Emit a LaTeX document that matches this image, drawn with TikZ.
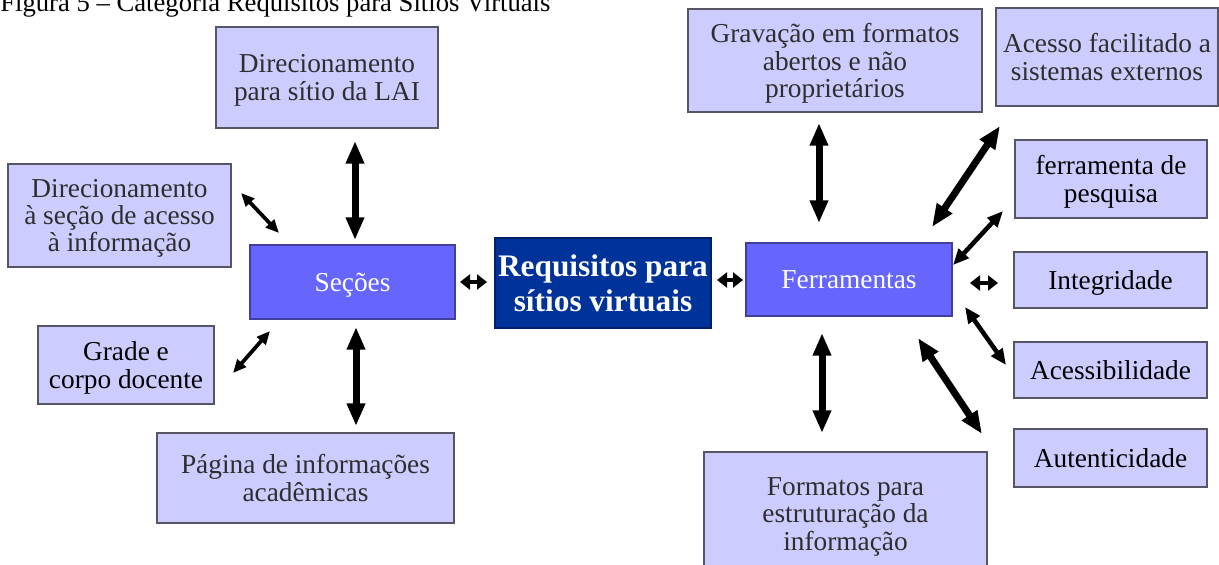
\documentclass[tikz,border=0pt]{standalone}
\usepackage{fontspec}
\setmainfont{Liberation Serif}
\usetikzlibrary{arrows.meta}
\definecolor{boxfill}{HTML}{CCCCFF}
\definecolor{boxline}{HTML}{555566}
\definecolor{midfill}{HTML}{6666FF}
\definecolor{midline}{HTML}{40409A}
\definecolor{darkfill}{HTML}{003399}
\definecolor{darkline}{HTML}{001F66}
\definecolor{graytext}{HTML}{2E2E2E}
\begin{document}
\begin{tikzpicture}[x=0.75pt,y=-0.75pt,
  lbox/.style={draw=boxline, line width=1pt, fill=boxfill, inner sep=0pt, align=center,
    font=\fontsize{20.5}{20.5}\selectfont, text=graytext, text depth=0pt},
  lboxk/.style={lbox, text=black},
  mbox/.style={draw=midline, line width=1pt, fill=midfill, inner sep=0pt, align=center,
    font=\fontsize{20.5}{20.5}\selectfont, text=white, text depth=0pt},
  cbox/.style={draw=darkline, line width=1pt, fill=darkfill, inner sep=0pt, align=center,
    font=\fontsize{23.5}{26}\selectfont\bfseries, text=white},
  bigarr/.style={line width=5.25pt, >={Triangle[width=13pt,length=17pt]}, <->},
  medarr/.style={line width=3.4pt, >={Triangle[width=10pt,length=12pt]}, <->},
  smallarr/.style={line width=2.8pt, >={Triangle[width=8.5pt,length=10pt]}, <->},
  tinyarr/.style={line width=3.4pt, >={Triangle[width=11.25pt,length=7.5pt]}, <->}
]
\useasboundingbox (0,0) rectangle (1219,564);
\clip (0,0) rectangle (1219,564);

\node[anchor=base west, inner sep=0pt, font=\fontsize{20}{20}\selectfont] (cap) at (0,12)
  {Figura 5 – Categoria Requisitos para Sítios Virtuais};

% nodes
\node[lbox, minimum width=166.5pt, minimum height=75.75pt] (lai) at (327,77.5)
  {Direcionamento\\para sítio da LAI};
\node[lbox, minimum width=167.25pt, minimum height=77.25pt] (dsec) at (119.5,215.5)
  {Direcionamento\\à seção de acesso\\à informação};
\node[mbox, minimum width=153.75pt, minimum height=55.5pt] (secoes) at (352.5,282)
  {Seções};
\node[cbox, minimum width=162pt, minimum height=67.5pt] (req) at (603,283)
  {Requisitos para\\sítios virtuais};
\node[mbox, minimum width=154.5pt, minimum height=54.75pt] (ferr) at (849,279.5)
  {Ferramentas};
\node[lboxk, minimum width=132pt, minimum height=58.5pt] (grade) at (126,365)
  {Grade e\\corpo docente};
\node[lbox, minimum width=222.75pt, minimum height=67.5pt] (pag) at (305.5,478)
  {Página de informações\\acadêmicas};
\node[lbox, minimum width=220.5pt, minimum height=77.25pt] (grav) at (835,60.5)
  {Gravação em formatos\\abertos e não\\proprietários};
\node[lbox, minimum width=166.5pt, minimum height=73.5pt] (acesso) at (1107,57)
  {Acesso facilitado a\\sistemas externos};
\node[lboxk, minimum width=144pt, minimum height=58.5pt] (pesq) at (1111,179)
  {ferramenta de\\pesquisa};
\node[lboxk, minimum width=144.75pt, minimum height=42pt] (integ) at (1110.5,280)
  {Integridade};
\node[lboxk, minimum width=144.75pt, minimum height=42pt] (acess) at (1110.5,370)
  {Acessibilidade};
\node[lboxk, minimum width=144.75pt, minimum height=43.5pt] (auten) at (1110.5,458)
  {Autenticidade};
\node[lbox, minimum width=212.25pt, minimum height=93pt] (form) at (845.5,514)
  {Formatos para\\estruturação da\\informação};

% connector ends
\coordinate (c1a) at (355,141);  \coordinate (c1b) at (355,240);
\coordinate (c2a) at (241,193);  \coordinate (c2b) at (279,233);
\coordinate (c3a) at (270,331);  \coordinate (c3b) at (233,373);
\coordinate (c4a) at (356,327);  \coordinate (c4b) at (356,426);
\coordinate (c5a) at (460,282);  \coordinate (c5b) at (487,282);
\coordinate (c6a) at (717,280);  \coordinate (c6b) at (743,280);
\coordinate (c7a) at (819,123);  \coordinate (c7b) at (819,223);
\coordinate (c8a) at (822,333);  \coordinate (c8b) at (822,433);
\coordinate (c9a) at (1000,126); \coordinate (c9b) at (932,227);
\coordinate (c10a) at (1003,211); \coordinate (c10b) at (953,265);
\coordinate (c11a) at (970,283); \coordinate (c11b) at (998,283);
\coordinate (c12a) at (965,307); \coordinate (c12b) at (1006,365);
\coordinate (c13a) at (918,338); \coordinate (c13b) at (982,434);

% connectors
\draw[bigarr] (c1a) -- (c1b);
\draw[smallarr] (c2a) -- (c2b);
\draw[smallarr] (c3a) -- (c3b);
\draw[bigarr] (c4a) -- (c4b);
\draw[tinyarr] (c5a) -- (c5b);
\draw[tinyarr] (c6a) -- (c6b);
\draw[bigarr] (c7a) -- (c7b);
\draw[bigarr] (c8a) -- (c8b);
\draw[bigarr] (c9a) -- (c9b);
\draw[medarr] (c10a) -- (c10b);
\draw[tinyarr] (c11a) -- (c11b);
\draw[medarr] (c12a) -- (c12b);
\draw[bigarr] (c13a) -- (c13b);
\end{tikzpicture}
\end{document}
